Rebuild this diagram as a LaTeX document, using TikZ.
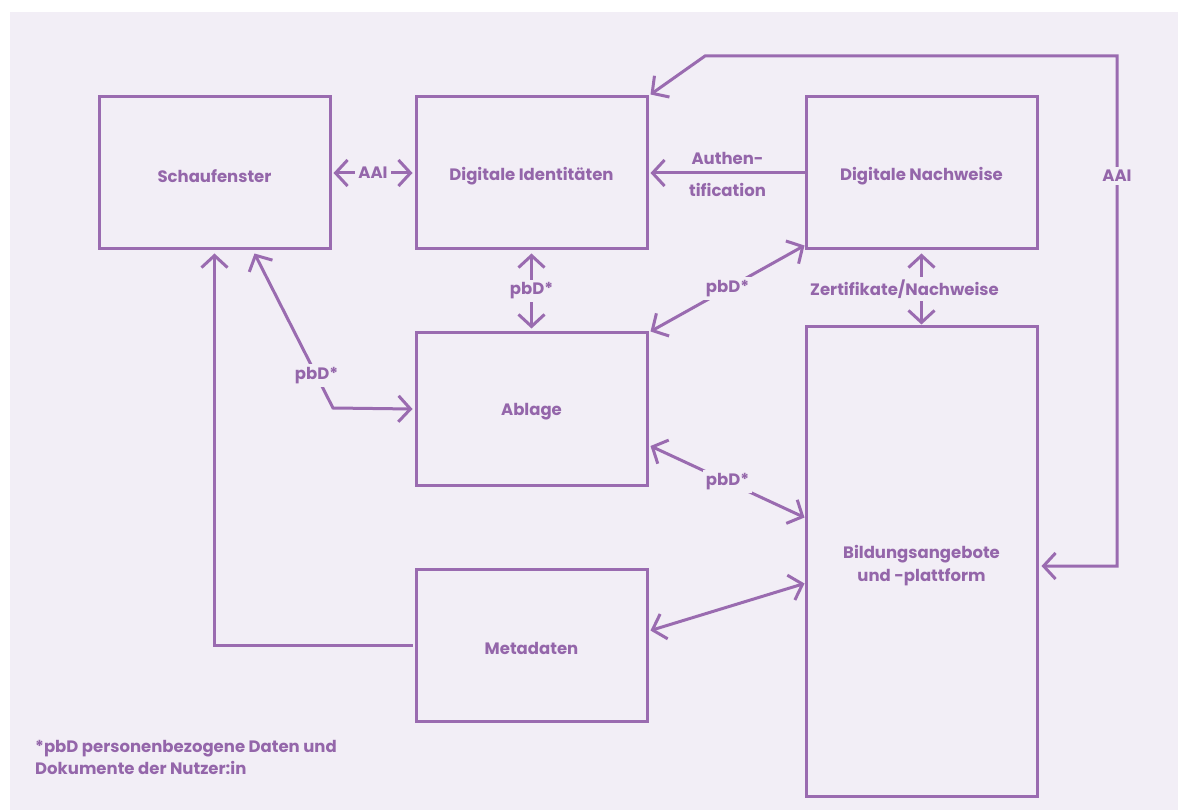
\documentclass[tikz,border=0pt]{standalone}
\usepackage{fontspec}
\setmainfont{Poppins}
\usetikzlibrary{arrows.meta}
\definecolor{bg}{HTML}{F2EEF6}
\definecolor{pu}{HTML}{9A6BB0}
\definecolor{tx}{HTML}{9466AA}
\newcommand{\lowr}[2][3pt]{\raisebox{-#1}[\height][\depth]{#2}}
\begin{document}
\begin{tikzpicture}[x=1pt,y=-1pt,
  every node/.style={font=\fontsize{16.5}{23}\selectfont\bfseries, text=tx},
  box/.style={draw=pu, line width=3pt, minimum width=231pt, minimum height=152pt, inner sep=0pt, align=center},
  conn/.style={draw=pu, line width=3pt},
  arr/.style={conn, -{Straight Barb[length=12pt,width=26pt,line width=3pt]}},
  both/.style={conn, {Straight Barb[length=12pt,width=26pt,line width=3pt]}-{Straight Barb[length=12pt,width=26pt,line width=3pt]}},
  lbl/.style={fill=bg, inner sep=3pt}]
\useasboundingbox (0,0) rectangle (1181,810);
\fill[bg] (10,12) rectangle (1178,810);
\node[box] (sch) at (214.5,173) {\lowr{Schaufenster}};
\node[box] (di) at (531.5,173) {\lowr{Digitale Identitäten}};
\node[box] (dn) at (921.5,173) {\lowr{Digitale Nachweise}};
\node[box] (ab) at (531.5,409) {\lowr{Ablage}};
\node[box] (me) at (531.5,645.5) {\lowr{Metadaten}};
\node[box, minimum height=469pt] (bi) at (921.5,561.5) {\lowr[4pt]{Bildungsangebote}\\\lowr[4pt]{und -plattform}};
\coordinate (k1) at (333,408);
\coordinate (r1) at (1117,566);
\coordinate (r2) at (1117,56);
\coordinate (r3) at (705,56);
% connectors
\draw[both] ([xshift=2pt]sch.east) -- node[lbl] {AAI} ([xshift=-2pt]di.west);
\draw[arr] (dn.west) -- node[above=7pt, inner sep=0pt] {Authen-} node[below=9pt, inner sep=0pt] {tification} ([xshift=2pt]di.east);
\draw[both] ([yshift=-3pt]di.south) -- node[lbl] {pbD*} ([yshift=3pt]ab.north);
\draw[both] ([xshift=2pt]ab.north east) -- node[lbl] {pbD*} ([yshift=5pt]dn.south west);
\draw[both] ([yshift=-3pt]dn.south) -- node[lbl, xshift=-17pt] {Zertifikate/Nachweise} ([yshift=1pt]bi.north);
\draw[both] ([xshift=2pt,yshift=-37pt]ab.east) -- node[lbl, pos=0.5] {pbD*} ([yshift=44pt]bi.west);
\draw[both] ([xshift=2pt,yshift=15pt]me.east) -- ([yshift=-22pt]bi.west);
\draw[arr] ([xshift=-2pt]me.west) -| ([yshift=-3pt]sch.south);
\draw[both] ([xshift=40pt,yshift=-3pt]sch.south) -- node[lbl, pos=0.79] {pbD*} (k1) -- ([xshift=-2pt]ab.west);
\draw[both] ([xshift=3pt,yshift=-4.5pt]bi.east) -- (r1) -- node[lbl, pos=0.765] {AAI} (r2) -- (r3) -- ([xshift=2pt,yshift=1pt]di.north east);
\node[anchor=north west, align=left, inner sep=0pt, font=\fontsize{16.5}{22}\selectfont\bfseries] (fn) at (35,740) {*pbD personenbezogene Daten und\\Dokumente der Nutzer:in};
\end{tikzpicture}
\end{document}
